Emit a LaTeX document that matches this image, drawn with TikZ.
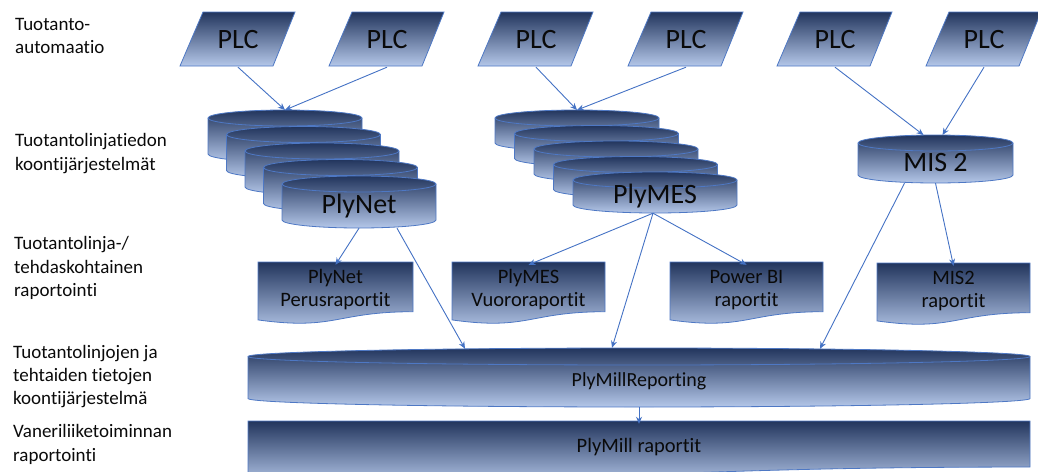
\documentclass[tikz,border=0pt]{standalone}
\usepackage{fontspec}
\setmainfont{Carlito}[Ligatures=NoCommon]
\usetikzlibrary{arrows.meta,calc}

\definecolor{shadetop}{RGB}{34,53,93}
\definecolor{shadebot}{RGB}{180,199,233}
\definecolor{rim}{RGB}{78,120,196}
\definecolor{linkblue}{RGB}{68,114,196}
\definecolor{ink}{RGB}{10,10,10}

\tikzset{
  solid3d/.style={top color=shadetop, bottom color=shadebot, draw=rim, line width=0.8pt},
  rimline/.style={draw=rim, line width=0.8pt},
  link/.style={draw=linkblue, line width=0.9pt, -{Stealth[length=7pt,width=6pt]}},
  bigtxt/.style={text=ink, inner sep=0pt},
  doctxt/.style={font=\fontsize{20.5}{23}\selectfont, text=ink, align=center, inner sep=0pt},
  sidetxt/.style={font=\fontsize{19}{23.3}\selectfont, text=ink, align=left, inner sep=0pt, anchor=north west},
}

% parallelogram input box: name, centre x
\newcommand\plcbox[2]{%
  \path[solid3d] (#2-58,66) -- (#2+35,66) -- (#2+57,12) -- (#2-35,12) -- cycle;
  \node[bigtxt, font=\fontsize{28}{32}\selectfont, minimum width=116pt, minimum height=54pt] (#1) at (#2,40) {PLC};
}

% database drum: name, left x, top y, width, height, ellipse radius, font size, text
\newcommand\drum[8]{%
  \pgfmathsetmacro\dA{#4/2}%
  \pgfmathsetmacro\dT{#3+#6}%
  \pgfmathsetmacro\dB{#3+#5-#6}%
  \pgfmathsetmacro\dC{#2+#4/2}%
  \pgfmathsetmacro\dM{(\dT+#3+#5)/2}%
  \pgfmathsetmacro\dH{#5-#6}%
  \path[solid3d] (#2,\dT) -- (#2,\dB)
     arc[start angle=180,end angle=360,x radius=\dA pt,y radius=#6pt]
     -- (#2+#4,\dT)
     arc[start angle=0,end angle=180,x radius=\dA pt,y radius=#6pt] -- cycle;
  \draw[rimline] (#2,\dT) arc[start angle=180,end angle=360,x radius=\dA pt,y radius=#6pt];
  \node[bigtxt, font=\fontsize{#7}{#7}\selectfont, minimum width=#4pt, minimum height=\dH pt] (#1) at (\dC,\dM) {#8};
  \coordinate (#1-top) at (\dC,#3);
}

% report sheet with wavy lower edge: name, left x, top y, width, height, text
\newcommand\report[6]{%
  \pgfmathsetmacro\rR{#3+0.802*#5}%
  \pgfmathsetmacro\rL{#3+0.934*#5}%
  \pgfmathsetmacro\rD{#3+1.1075*#5}%
  \pgfmathsetmacro\rC{#2+#4/2}%
  \pgfmathsetmacro\rN{0.8*#5}%
  \pgfmathsetmacro\rM{#3+0.4*#5+3}%
  \path[solid3d] (#2,#3) -- (#2+#4,#3) -- (#2+#4,\rR)
     .. controls (\rC,\rR) and (\rC,\rD) .. (#2,\rL) -- cycle;
  \node[doctxt, minimum width=#4pt, minimum height=\rN pt] (#1) at (\rC,\rM) {#6};
}

\begin{document}
\begin{tikzpicture}[x=1pt,y=-1pt]
\useasboundingbox (0,0) rectangle (1038,471);

% layer captions
\node[sidetxt] (cap1) at (15,18) {Tuotanto-\\automaatio};
\node[sidetxt] (cap2) at (15,133.5) {Tuotantolinjatiedon\\koontijärjestelmät};
\node[sidetxt] (cap3) at (14,236.5) {Tuotantolinja-/\\tehdaskohtainen\\raportointi};
\node[sidetxt] (cap4) at (13,345) {Tuotantolinjojen ja\\tehtaiden tietojen\\koontijärjestelmä};
\node[sidetxt] (cap5) at (13,424.5) {Vaneriliiketoiminnan\\raportointi};

% automation layer
\plcbox{plc1}{238}
\plcbox{plc2}{387}
\plcbox{plc3}{536}
\plcbox{plc4}{686}
\plcbox{plc5}{835}
\plcbox{plc6}{984}

% PlyNet stack, back to front
\drum{netA}{208}{110}{154}{52}{8}{28}{}
\drum{netB}{226.5}{126.5}{154}{52}{8}{28}{}
\drum{netC}{245}{143}{154}{52}{8}{28}{}
\drum{netD}{263.5}{159.5}{154}{52}{8}{28}{}
\drum{net}{282}{176}{154}{52}{8}{28}{PlyNet}

% PlyMES stack, back to front
\drum{mesA}{495}{110}{164}{41}{8}{28}{}
\drum{mesB}{514.5}{125.5}{164}{41}{8}{28}{}
\drum{mesC}{534}{141}{164}{41}{8}{28}{}
\drum{mesD}{553.5}{156.5}{164}{41}{8}{28}{}
\drum{mes}{573}{172}{164}{41}{8}{28}{PlyMES}

% MIS 2
\drum{mis}{858}{135}{155}{48}{8}{28}{MIS 2}

% line / mill reports
\report{netrep}{258}{262}{155}{62}{PlyNet\\Perusraportit}
\report{mesrep}{452}{262}{153}{62}{PlyMES\\Vuororaportit}
\report{pbi}{670}{262}{153}{62}{Power BI\\raportit}
\report{misrep}{877}{263}{153}{62}{MIS2\\raportit}

% combined reporting
\drum{pmr}{248}{348}{782}{59}{8.5}{20}{PlyMillReporting}
\report{pmrep}{248}{421}{782}{57.4}{PlyMill raportit}

% connectors
\draw[link] (plc1.south) -- (netA-top);
\draw[link] (plc2.south) -- (netA-top);
\draw[link] (plc3.south) -- (mesA-top);
\draw[link] (plc4.south) -- (mesA-top);
\draw[link] (plc5.south) -- ([xshift=-12pt]mis-top);
\draw[link] (plc6.south) -- ([xshift=7pt]mis-top);

\draw[link] (net.south) -- (netrep.north);
\draw[link] ([xshift=38pt]net.south) -- ([xshift=-174pt,yshift=7.6pt]pmr.north);
\draw[link] ([xshift=-2pt]mes.south) -- (mesrep.north);
\draw[link] ([xshift=-2pt]mes.south) -- (pbi.north);
\draw[link] ([xshift=-2pt]mes.south) -- ([xshift=-27pt,yshift=8.5pt]pmr.north);
\draw[link] ([xshift=-31pt]mis.south) -- ([xshift=181pt,yshift=7.5pt]pmr.north);
\draw[link] (mis.south) -- (misrep.north);
\draw[link] (pmr.south) -- (pmrep.north);
\end{tikzpicture}
\end{document}
